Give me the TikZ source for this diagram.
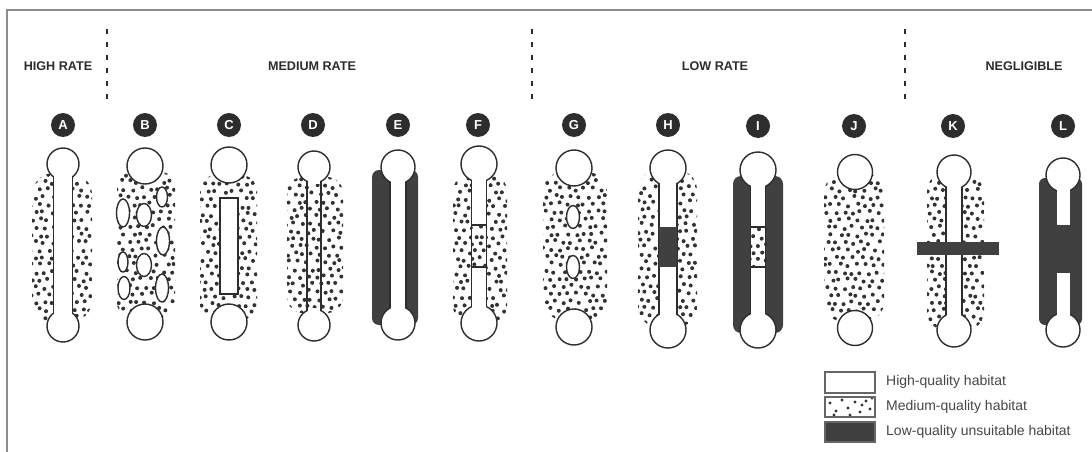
\documentclass[tikz,border=0pt]{standalone}
\usepackage{fontspec}
\setmainfont{Liberation Sans}
\definecolor{dk}{RGB}{64,64,64}
\definecolor{lc}{RGB}{45,45,45}
\definecolor{dotc}{RGB}{50,50,50}
\definecolor{txt}{RGB}{70,70,70}
\tikzset{
 ln/.style={draw=lc, line width=1.4pt},
 hab/.style={fill=white, draw=lc, line width=1.4pt},
 lowq/.style={fill=dk},
 lett/.style={circle, fill=lc, text=white, font=\bfseries\fontsize{13pt}{13pt}\selectfont, minimum size=24pt, inner sep=0pt},
 hdr/.style={font=\bfseries\fontsize{12.6pt}{13pt}\selectfont, text=lc, inner sep=0pt},
 leg/.style={font=\fontsize{14pt}{14pt}\selectfont, text=txt, anchor=west, inner sep=0pt},
 legbox/.style={draw=black!60, line width=1.1pt},
 sepline/.style={draw=lc, line width=2.4pt, dash pattern=on 5pt off 8pt},
 frameline/.style={draw=black!45, line width=1.5pt},
 dot/.style={fill=dotc},
}
% dot field: x1 y1 x2 y2 corner seed
\newcommand{\dotfield}[6]{%
 \begin{scope}
 \clip[rounded corners=#5] (#1,#2) rectangle (#3,#4);
 \pgfmathsetseed{#6}
 \pgfmathtruncatemacro{\nx}{(#3-#1)/8.5+1}
 \pgfmathtruncatemacro{\ny}{(#4-#2)/7.5+1}
 \foreach \i in {0,...,\nx}{\foreach \j in {0,...,\ny}{
  \fill[dot] ({#1-1+\i*8.5+mod(\j,2)*4.25+2*rand},{#2+2+\j*7.5+1.8*rand}) circle (2pt);
 }}
 \end{scope}}
% two end patches: cx yt yb r
\newcommand{\bells}[4]{\filldraw[hab] (#1,#2) circle (#4pt) (#1,#3) circle (#4pt);}
% white corridor: cx yt yb r w
\newcommand{\corr}[5]{%
 \fill[white] ({#1-#5+0.75},#2) rectangle ({#1+#5-0.75},#3);
 \pgfmathsetmacro{\dy}{sqrt(#4*#4-#5*#5)}
 \draw[ln] ({#1-#5},{#2+\dy}) -- ({#1-#5},{#3-\dy}) ({#1+#5},{#2+\dy}) -- ({#1+#5},{#3-\dy});}
% open corridor (medium quality inside): cx yt yb r w
\newcommand{\corropen}[5]{%
 \fill[white] ({#1-#5+0.75},#2) rectangle ({#1+#5-0.75},{#2+#4+1});
 \fill[white] ({#1-#5+0.75},{#3-#4-1}) rectangle ({#1+#5-0.75},#3);
 \pgfmathsetmacro{\dy}{sqrt(#4*#4-#5*#5)}
 \draw[ln] ({#1-#5},{#2+\dy}) -- ({#1-#5},{#3-\dy}) ({#1+#5},{#2+\dy}) -- ({#1+#5},{#3-\dy});}
\begin{document}
\begin{tikzpicture}[x=1pt,y=-1pt]
\useasboundingbox (0,0) rectangle (1092,452);
\fill[white] (0,0) rectangle (1092,452);
\draw[frameline] (7,452) -- (7,10) -- (1092,10);

% header
\node[hdr] (hhigh) at (58,66) {HIGH RATE};
\node[hdr] (hmed) at (312,66) {MEDIUM RATE};
\node[hdr] (hlow) at (715,66) {LOW RATE};
\node[hdr] (hneg) at (1024,66) {NEGLIGIBLE};
\draw[sepline] (107,29) -- (107,99);
\draw[sepline] (532,29) -- (532,99);
\draw[sepline] (905,29) -- (905,99);

% letters
\node[lett] (A) at (63,125) {A};
\node[lett] (B) at (145,125) {B};
\node[lett] (C) at (229,125) {C};
\node[lett] (D) at (313,125) {D};
\node[lett] (E) at (398,125) {E};
\node[lett] (F) at (478,125) {F};
\node[lett] (G) at (574,125) {G};
\node[lett] (H) at (668,125) {H};
\node[lett] (I) at (758,126) {I};
\node[lett] (J) at (854,126) {J};
\node[lett] (K) at (953,126) {K};
\node[lett] (L) at (1063,126) {L};

% A
\dotfield{32}{173}{92}{322}{22pt}{11}
\bells{63}{164}{326}{16}
\corr{63}{164}{326}{16}{9.5}

% B
\dotfield{117}{172}{175}{317}{14pt}{12}
\bells{145}{166}{322}{18}
\filldraw[hab] (123,213) ellipse [x radius=6.5pt, y radius=14pt];
\filldraw[hab] (144,215) ellipse [x radius=7.5pt, y radius=11.5pt];
\filldraw[hab] (162,197) ellipse [x radius=5.5pt, y radius=10pt];
\filldraw[hab] (163,241) ellipse [x radius=6.5pt, y radius=14pt];
\filldraw[hab] (123,262) ellipse [x radius=5pt, y radius=10pt];
\filldraw[hab] (144,265) ellipse [x radius=7.5pt, y radius=11.5pt];
\filldraw[hab] (124,288) ellipse [x radius=6pt, y radius=11.5pt];
\filldraw[hab] (162,288) ellipse [x radius=6.5pt, y radius=14pt];

% C
\dotfield{200}{175}{257}{320}{16pt}{13}
\bells{229}{165}{322}{18}
\filldraw[hab] (220,198) rectangle (238,294);

% D
\dotfield{287}{177}{343}{313}{16pt}{14}
\bells{314}{167}{325}{16}
\corropen{314}{167}{325}{16}{7}

% E
\fill[lowq, rounded corners=7pt] (372,170) rectangle (418,325);
\bells{398}{167}{323}{17}
\corr{398}{167}{323}{17}{8}

% F
\dotfield{453}{175}{507}{322}{16pt}{15}
\bells{479}{164}{323}{18}
\corr{479}{164}{323}{18}{7.5}
\fill[white] (471.5,225) rectangle (486.5,267);
\dotfield{472}{226}{487}{266}{0pt}{21}
\draw[ln] (471.5,225) rectangle (486.5,267);

% G
\dotfield{543}{172}{607}{320}{20pt}{16}
\bells{574}{168}{327}{18}
\filldraw[hab] (573,217) ellipse [x radius=6.5pt, y radius=11.5pt];
\filldraw[hab] (573,267) ellipse [x radius=6.5pt, y radius=11.5pt];

% H
\dotfield{638}{170}{697}{327}{20pt}{17}
\bells{668}{168}{330}{18}
\corr{668}{168}{330}{18}{9}
\fill[lowq] (659,227) rectangle (677,267);

% I
\fill[lowq, rounded corners=8pt] (733,176) rectangle (783,333);
\bells{758}{170}{330}{18}
\corr{758}{170}{330}{18}{7.5}
\fill[white] (750.5,227) rectangle (765.5,267);
\dotfield{751}{228}{767}{266}{0pt}{22}
\draw[ln] (750.5,227) rectangle (765.5,267);

% J
\dotfield{824}{173}{884}{322}{20pt}{18}
\bells{855}{172}{328}{17.5}

% K
\dotfield{927}{173}{984}{330}{18pt}{19}
\bells{954}{172}{330}{17}
\corr{954}{172}{330}{17}{8}
\fill[lowq] (917,242) rectangle (999,255);

% L
\fill[lowq, rounded corners=6pt] (1039,178) rectangle (1082,325);
\bells{1063}{175}{330}{17}
\fill[white] (1056.5,175) rectangle (1069.5,225);
\fill[white] (1056.5,273) rectangle (1069.5,330);

% legend
\filldraw[legbox, fill=white] (825,372) rectangle (875,393);
\foreach \p in {(830,403),(836,411),(842,400),(848,408),(855,402),(860,412),(866,401),(870,409),(834,415),(850,415),(872,398),(862,405)}
  \fill[dot] \p circle (1.7pt);
\draw[legbox] (825,397) rectangle (875,417);
\filldraw[legbox, fill=dk] (825,422) rectangle (875,442);
\node[leg] (lhigh) at (886,382) {High-quality habitat};
\node[leg] (lmed) at (886,407) {Medium-quality habitat};
\node[leg] (llow) at (886,432) {Low-quality unsuitable habitat};
\end{tikzpicture}
\end{document}
